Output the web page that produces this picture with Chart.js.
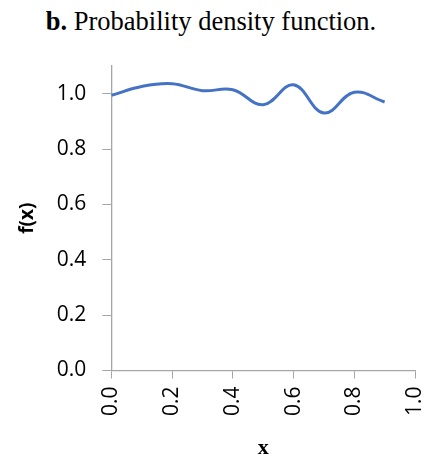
<!DOCTYPE html>
<html>
<head>
<meta charset="utf-8">
<script src="https://cdn.jsdelivr.net/npm/chart.js@4"></script>
<style>
  html, body { margin: 0; padding: 0; background: #fff; }
  #wrap { position: relative; width: 428px; height: 456px; }
  #title {
    position: absolute; left: 0; top: 6px; width: 422px; text-align: center;
    font-family: "Liberation Serif", "Times New Roman", serif; font-size: 26.5px; color: #000;
  }
  canvas { position: absolute; left: 0; top: 0; }
</style>
</head>
<body>
<div id="wrap">
  <div id="title"><b>b.</b> Probability density function.</div>
  <canvas id="pdf" width="428" height="456"></canvas>
</div>
<script>
/* data */
const xs = [0.0, 0.1, 0.2, 0.3, 0.4, 0.5, 0.6, 0.7, 0.8, 0.9];
const fx = [0.994, 1.026, 1.036, 1.011, 1.014, 0.960, 1.032, 0.930, 1.005, 0.970];
const xTicks = [0.0, 0.2, 0.4, 0.6, 0.8, 1.0];
const yTicks = [0.0, 0.2, 0.4, 0.6, 0.8, 1.0];

const axisGray = "#a6a6a6";
const tickFont = { family: "'Open Sans', sans-serif", size: 21 };

new Chart(document.getElementById("pdf"), {
  type: "scatter",
  data: {
    datasets: [{
      data: xs.map((x, i) => ({ x: x, y: fx[i] })),
      showLine: true,
      borderColor: "#4472c4",
      borderWidth: 3,
      pointRadius: 0,
      tension: 0.4
    }]
  },
  options: {
    responsive: false,
    animation: false,
    layout: { padding: { top: 66, right: 13, left: 16, bottom: -3 } },
    plugins: { legend: { display: false }, tooltip: { enabled: false } },
    scales: {
      x: {
        min: 0, max: 1,
        afterBuildTicks: s => { s.ticks = xTicks.map(v => ({ value: v })); },
        afterFit: s => { s.paddingRight = 0; },
        grid: { drawOnChartArea: false, color: axisGray, tickLength: 8 },
        border: { color: axisGray, width: 1.3 },
        ticks: {
          color: "#000", font: tickFont, maxRotation: 90, minRotation: 90,
          padding: 8, callback: v => v.toFixed(1)
        },
        title: {
          display: true, text: "x", color: "#000",
          font: { family: "'Liberation Serif', serif", size: 22, weight: "bold", lineHeight: 1 },
          padding: { top: 13, bottom: 0 }
        }
      },
      y: {
        min: 0, max: 1.1,
        afterBuildTicks: s => { s.ticks = yTicks.map(v => ({ value: v })); },
        grid: { drawOnChartArea: false, color: axisGray, tickLength: 9 },
        border: { color: axisGray, width: 1.3 },
        ticks: { color: "#000", font: tickFont, padding: 16, callback: v => v.toFixed(1) },
        title: {
          display: true, text: "f(x)", color: "#000",
          font: { family: "'Open Sans', sans-serif", size: 19, weight: "bold" },
          padding: { top: 0, bottom: 2 }
        }
      }
    }
  }
});
</script>
</body>
</html>
